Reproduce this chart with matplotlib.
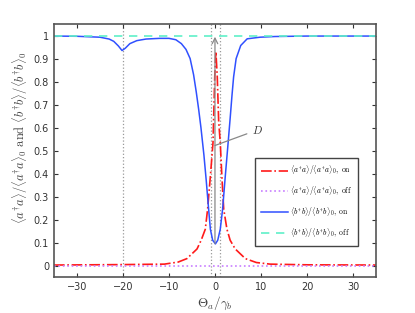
import matplotlib
matplotlib.use("Agg")
import matplotlib.pyplot as plt

plt.rcParams["mathtext.fontset"] = "cm"
plt.rcParams["font.family"] = "DejaVu Sans"

# <b^dagger b>/<b^dagger b>_0, on
theta_b = [-35, -30, -25, -23, -22, -21, -20.2, -19.5, -18.5, -17, -15, -12, -10,
           -8.5, -7.3, -6.3, -5.4, -4.65, -4.07, -3.55, -3.05, -2.4, -1.9, -1.38,
           -1.0, -0.5, 0.1, 0.6, 1.15, 1.66, 2.24, 2.8, 3.3, 3.7, 4.05, 4.6, 5.6,
           7.0, 9.8, 13, 20, 30, 35]
b_on = [0.998, 0.997, 0.993, 0.985, 0.975, 0.955, 0.935, 0.945, 0.965, 0.978, 0.985,
        0.988, 0.988, 0.982, 0.965, 0.94, 0.90, 0.83, 0.755, 0.68, 0.6, 0.48,
        0.37, 0.245, 0.158, 0.11, 0.094, 0.11, 0.158, 0.245, 0.388, 0.52, 0.64,
        0.74, 0.82, 0.90, 0.957, 0.986, 0.993, 0.996, 0.998, 0.998, 0.998]

# <a^dagger a>/<a^dagger a>_0, on
theta_a = [-35, -20, -11, -8, -6.1, -3.9, -3.0, -2.1, -1.6, -1.0, -0.43, -0.3,
           -0.05, 0.2, 0.5, 0.8, 1.15, 1.5, 1.9, 2.6, 3.3, 4.4, 6.6, 9, 12, 20, 35]
a_on = [0.002, 0.004, 0.006, 0.015, 0.03, 0.072, 0.11, 0.158, 0.245, 0.388, 0.533,
        0.63, 0.82, 0.93, 0.82, 0.63, 0.533, 0.388, 0.245, 0.158, 0.11, 0.072,
        0.03, 0.013, 0.006, 0.003, 0.002]

# "off" reference lines
theta_off = [-35, 35]
a_off = [0.0, 0.0]
b_off = [1.0, 1.0]

# guide lines
vlines = [-20, -0.9, 1.2]
arrow_x = 0.0
arrow_y = [0.095, 0.995]

fig, ax = plt.subplots(figsize=(4.15, 3.13), dpi=100)
fig.subplots_adjust(left=0.130, right=0.906, bottom=0.115, top=0.923)

for v in vlines:
    ax.axvline(v, color="#999999", ls=":", lw=0.9, zorder=1)

ax.plot(theta_a, a_on, color="#ff1a1a", ls="-.", lw=1.2,
        label=r"$\langle a^{\dagger}a\rangle/\langle a^{\dagger}a\rangle_0,\ \mathrm{on}$")
ax.plot(theta_off, a_off, color="#c77dff", ls=":", lw=1.2,
        label=r"$\langle a^{\dagger}a\rangle/\langle a^{\dagger}a\rangle_0,\ \mathrm{off}$")
ax.plot(theta_b, b_on, color="#3050ff", ls="-", lw=1.1,
        label=r"$\langle b^{\dagger}b\rangle/\langle b^{\dagger}b\rangle_0,\ \mathrm{on}$")
ax.plot(theta_off, b_off, color="#5ff0c8", ls=(0, (5, 4)), lw=1.2,
        label=r"$\langle b^{\dagger}b\rangle/\langle b^{\dagger}b\rangle_0,\ \mathrm{off}$")

ax.annotate("", xy=(arrow_x, arrow_y[1]), xytext=(arrow_x, arrow_y[0]),
            arrowprops=dict(arrowstyle="->", color="#888888", lw=0.9,
                            shrinkA=0, shrinkB=0))
ax.annotate(r"$D$", xy=(0.0, 0.522), xytext=(8.1, 0.59), fontsize=8,
            va="center", ha="left", color="#333333",
            arrowprops=dict(arrowstyle="-", color="#888888", lw=0.9,
                            shrinkA=2, shrinkB=0))

ax.set_xlim(-35, 35)
ax.set_ylim(-0.05, 1.05)
ax.set_xticks([-30, -20, -10, 0, 10, 20, 30])
ax.set_yticks([0, 0.1, 0.2, 0.3, 0.4, 0.5, 0.6, 0.7, 0.8, 0.9, 1])
ax.set_yticklabels(["0", "0.1", "0.2", "0.3", "0.4", "0.5", "0.6", "0.7", "0.8", "0.9", "1"])
ax.tick_params(direction="in", top=True, right=True, labelsize=7,
               colors="#333333", length=3)
for s in ax.spines.values():
    s.set_color("#555555")
    s.set_linewidth(1.2)

ax.set_xlabel(r"$\Theta_a/\gamma_b$", fontsize=9.5, color="#444444", labelpad=2)
ax.set_ylabel(r"$\langle a^{\dagger}a\rangle/\langle a^{\dagger}a\rangle_0\ \mathrm{and}\ "
              r"\langle b^{\dagger}b\rangle/\langle b^{\dagger}b\rangle_0$",
              fontsize=9, color="#444444")
ax.yaxis.set_label_coords(-0.075, 0.553)

leg = ax.legend(loc="upper left", bbox_to_anchor=(0.624, 0.47), borderaxespad=0,
                fontsize=5.5, fancybox=False, handlelength=3.5, labelspacing=1.0,
                borderpad=0.8, handletextpad=0.3, framealpha=1)
leg.get_frame().set_edgecolor("#444444")
leg.get_frame().set_linewidth(1.0)

plt.savefig("out.png", dpi=100)
